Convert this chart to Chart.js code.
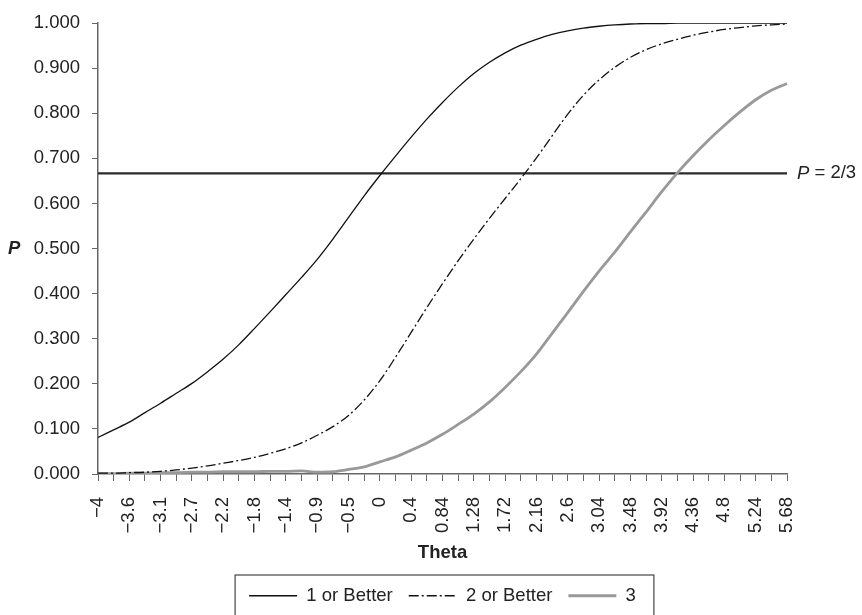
<!DOCTYPE html>
<html>
<head>
<meta charset="utf-8">
<script src="https://cdn.jsdelivr.net/npm/chart.js@4/dist/chart.umd.min.js"></script>
<style>
  html, body { margin: 0; padding: 0; background: #fff; }
  canvas { display: block; }
</style>
</head>
<body>
<canvas id="myChart" width="862" height="615"></canvas>
<script>
// theta categories (step 0.22), labels shown on every second one
var theta = [-4, -3.78, -3.56, -3.34, -3.12, -2.9, -2.68, -2.46, -2.24, -2.02,
    -1.8, -1.58, -1.36, -1.14, -0.92, -0.7, -0.48, -0.26, -0.04, 0.18,
    0.4, 0.62, 0.84, 1.06, 1.28, 1.5, 1.72, 1.94, 2.16, 2.38,
    2.6, 2.82, 3.04, 3.26, 3.48, 3.7, 3.92, 4.14, 4.36, 4.58,
    4.8, 5.02, 5.24, 5.46, 5.68];
var tickLabels = ["\u22124", "\u22123.6", "\u22123.1", "\u22122.7", "\u22122.2", "\u22121.8", "\u22121.4", "\u22120.9", "\u22120.5", "0",
    "0.4", "0.84", "1.28", "1.72", "2.16", "2.6", "3.04", "3.48", "3.92", "4.36", "4.8", "5.24", "5.68"];

var oneOrBetter = [0.081, 0.098, 0.115, 0.136, 0.157, 0.179, 0.201, 0.227, 0.255, 0.287,
    0.323, 0.360, 0.398, 0.436, 0.476, 0.521, 0.569, 0.617, 0.662, 0.705,
    0.747, 0.787, 0.824, 0.858, 0.888, 0.913, 0.934, 0.951, 0.964, 0.975,
    0.983, 0.989, 0.993, 0.996, 0.998, 0.999, 0.999, 1.000, 1.000, 1.000,
    1.000, 1.000, 1.000, 1.000, 1.000];
var twoOrBetter = [0.002, 0.002, 0.003, 0.004, 0.006, 0.009, 0.013, 0.018, 0.024, 0.030,
    0.037, 0.046, 0.056, 0.069, 0.086, 0.105, 0.130, 0.164, 0.207, 0.259,
    0.314, 0.369, 0.422, 0.473, 0.521, 0.567, 0.611, 0.655, 0.701, 0.750,
    0.798, 0.840, 0.874, 0.902, 0.924, 0.941, 0.954, 0.964, 0.973, 0.980,
    0.986, 0.990, 0.994, 0.996, 0.998];
var three = [0.001, 0.001, 0.002, 0.002, 0.003, 0.003, 0.004, 0.004, 0.005, 0.005,
    0.005, 0.006, 0.006, 0.007, 0.004, 0.005, 0.010, 0.016, 0.027, 0.038,
    0.053, 0.069, 0.088, 0.110, 0.133, 0.160, 0.192, 0.227, 0.266, 0.312,
    0.358, 0.405, 0.450, 0.492, 0.537, 0.581, 0.626, 0.668, 0.706, 0.741,
    0.773, 0.803, 0.830, 0.851, 0.866];
var threshold = 2 / 3;

var FONT = '"Liberation Sans", Arial, Helvetica, sans-serif';
var SIZE = 18.5;

Chart.defaults.font.family = FONT;
Chart.defaults.font.size = SIZE;
Chart.defaults.color = '#222';

// text labels and the legend frame
const extras = {
    id: 'extras',
    afterDraw(chart) {
        const ctx = chart.ctx;
        const area = chart.chartArea;
        const y = chart.scales.y.getPixelForValue(threshold);
        ctx.save();
        ctx.fillStyle = '#222';
        ctx.textBaseline = 'middle';
        ctx.textAlign = 'left';
        let x = area.right + 10;
        ctx.font = 'italic ' + SIZE + 'px ' + FONT;
        ctx.fillText('P', x, y);
        x += ctx.measureText('P').width;
        ctx.font = SIZE + 'px ' + FONT;
        ctx.fillText(' = 2/3', x, y);

        ctx.font = 'italic bold ' + SIZE + 'px ' + FONT;
        ctx.fillText('P', 8, (area.top + area.bottom) / 2);

        const boxes = chart.legend.legendHitBoxes;
        if (boxes && boxes.length) {
            const first = boxes[0];
            const last = boxes[boxes.length - 1];
            const left = first.left - 14;
            const right = last.left + last.width + 18;
            const top = chart.legend.top + 4.5;
            ctx.strokeStyle = '#444';
            ctx.lineWidth = 1.2;
            ctx.strokeRect(left, top, right - left, 60);
        }
        ctx.restore();
    }
};

function createChart() {
    const ctx = document.getElementById('myChart');
    new Chart(ctx, {
        type: 'line',
        data: {
            labels: theta,
            datasets: [{
                label: '1 or Better',
                data: oneOrBetter,
                borderColor: '#111',
                borderWidth: 1.3,
                pointRadius: 0,
                cubicInterpolationMode: 'monotone'
            }, {
                label: '2 or Better',
                data: twoOrBetter,
                borderColor: '#111',
                borderWidth: 1.3,
                borderDash: [10, 3, 2, 3],
                pointRadius: 0,
                cubicInterpolationMode: 'monotone'
            }, {
                label: '3',
                data: three,
                borderColor: '#999',
                borderWidth: 2.8,
                pointRadius: 0,
                cubicInterpolationMode: 'monotone'
            }, {
                label: 'P = 2/3',
                data: [{x: theta[0], y: threshold}, {x: theta[theta.length - 1], y: threshold}],
                borderColor: '#2a2a2a',
                borderWidth: 2.4,
                pointRadius: 0
            }]
        },
        options: {
            responsive: false,
            animation: false,
            layout: { padding: { top: 16, right: 75, left: 0, bottom: 0 } },
            plugins: {
                tooltip: { enabled: false },
                legend: {
                    position: 'bottom',
                    fullSize: false,
                    labels: {
                        usePointStyle: true,
                        pointStyleWidth: 48,
                        padding: 16,
                        color: '#222',
                        generateLabels: (chart) => chart.data.datasets.slice(0, 3).map((ds, i) => ({
                            text: ds.label,
                            strokeStyle: ds.borderColor,
                            fillStyle: ds.borderColor,
                            lineWidth: ds.borderWidth,
                            lineDash: ds.borderDash || [],
                            pointStyle: 'line',
                            fontColor: '#222',
                            hidden: false,
                            datasetIndex: i
                        }))
                    }
                }
            },
            scales: {
                x: {
                    type: 'category',
                    offset: false,
                    grid: { drawOnChartArea: false, tickLength: 7, color: '#666' },
                    border: { color: '#666', width: 1.5 },
                    ticks: {
                        autoSkip: false,
                        minRotation: 90,
                        maxRotation: 90,
                        padding: 16,
                        callback: (v, i) => (i % 2 === 0 ? tickLabels[i / 2] : '')
                    },
                    title: {
                        display: true,
                        text: 'Theta',
                        font: { weight: 'bold' },
                        padding: { top: 0, bottom: 6 }
                    },
                    afterFit: (s) => { s.height = 96.5; }
                },
                y: {
                    min: 0,
                    max: 1,
                    grid: { drawOnChartArea: false, tickLength: 6, color: '#666' },
                    border: { color: '#666', width: 1.5 },
                    ticks: {
                        stepSize: 0.1,
                        padding: 12,
                        callback: (v) => v.toFixed(3)
                    },
                    afterFit: (s) => { s.width = 98; }
                }
            }
        },
        plugins: [extras]
    });
}
createChart();
</script>
</body>
</html>
